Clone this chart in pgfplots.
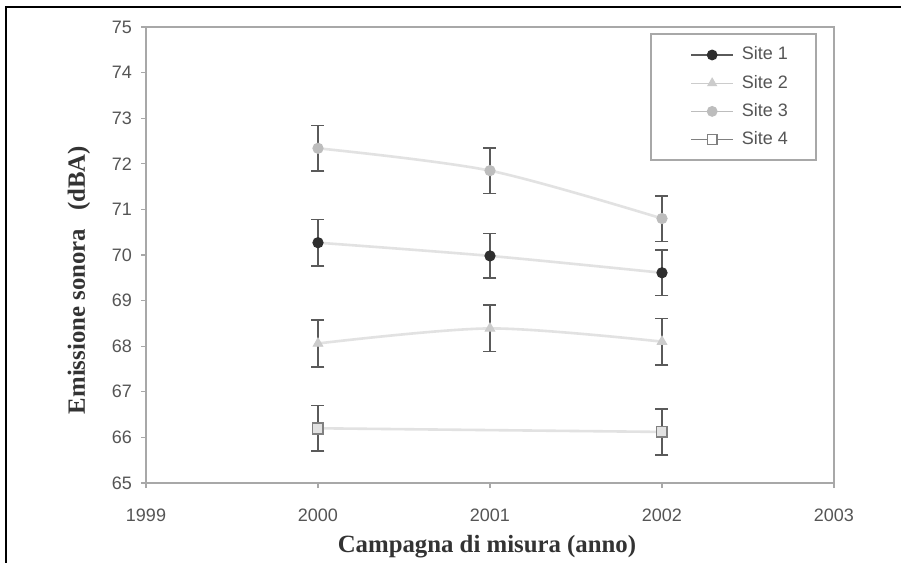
\documentclass[border=0pt]{standalone}
\usepackage{fontspec}
\setmainfont{Liberation Serif}
\setsansfont{Liberation Sans}
\usepackage{pgfplots}
\pgfplotsset{compat=1.18}
\definecolor{axisgray}{HTML}{A8A8A8}
\definecolor{errgray}{HTML}{5A5A5A}
\definecolor{linegray}{HTML}{E2E2E2}
\definecolor{ticktext}{HTML}{555555}
\definecolor{labeltext}{HTML}{333333}
\definecolor{sone}{HTML}{2E2E2E}
\definecolor{stwo}{HTML}{CCCCCC}
\definecolor{sthree}{HTML}{BDBDBD}
\definecolor{sfour}{HTML}{808080}
\begin{document}
\begin{tikzpicture}
\useasboundingbox (0,0) rectangle (450.5pt,281.5pt);
\fill[white] (0,0) rectangle (450.5pt,281.5pt);
\draw[black, line width=1pt] (3pt,0) -- (3pt,278pt) -- (450.5pt,278pt);
\begin{axis}[
  at={(73pt,40pt)}, anchor=south west, scale only axis,
  width=344pt, height=228pt,
  xmin=1999, xmax=2003, ymin=65, ymax=75,
  xtick={1999,2000,2001,2002,2003}, ytick={65,66,...,75},
  xtick pos=lower, ytick pos=left,
  tick align=outside, major tick length=2.5pt,
  tick style={axisgray, line width=0.6pt},
  axis line style={axisgray, line width=1pt},
  /pgf/number format/assume math mode=true,
  /pgf/number format/1000 sep={},
  tick label style={font=\sffamily\fontsize{9}{10}\selectfont, text=ticktext},
  x tick label style={yshift=-7pt},
  y tick label style={xshift=-1pt},
  xlabel={Campagna di misura (anno)},
  ylabel={Emissione sonora\hspace{9pt}(dBA)},
  xlabel style={at={(axis description cs:0.4956,-0.14)}, anchor=center,
    font=\bfseries\fontsize{12.4}{14}\selectfont, text=labeltext},
  ylabel style={at={(axis description cs:-0.0974,0.445)}, anchor=center,
    font=\bfseries\fontsize{12.4}{14}\selectfont, text=labeltext},
  legend style={at={(axis description cs:0.975,0.986)}, anchor=north east,
    draw=axisgray, line width=1pt, fill=white,
    font=\sffamily\fontsize{9}{10}\selectfont, text=ticktext,
    inner xsep=14pt, inner ysep=6pt, row sep=5.5pt,
    nodes={inner sep=0pt, text height=6.8pt, text depth=1.8pt},
    column sep=4pt},
  legend cell align=left,
  legend image code/.code={\path (0pt,0pt); \draw[#1] (6pt,0pt) -- (27pt,0pt); \path[#1] plot[only marks] coordinates {(16.5pt,0pt)};},
  error bars/y dir=both, error bars/y explicit,
  error bars/error mark options={rotate=90, mark size=3.25pt, line width=0.8pt, errgray},
  error bars/error bar style={line width=0.8pt, errgray},
]
% Site 3
\addplot[linegray, line width=1.3pt, smooth, mark=*, mark size=2.6pt,
  mark options={fill=sthree, draw=sthree, line width=0.4pt}, forget plot]
  table[x=x, y=y, y error=e] {
x y e
2000 72.34 0.5
2001 71.85 0.5
2002 70.80 0.5
};
% Site 1
\addplot[linegray, line width=1.3pt, smooth, mark=*, mark size=2.6pt,
  mark options={fill=sone, draw=sone, line width=0.4pt}, forget plot]
  table[x=x, y=y, y error=e] {
x y e
2000 70.27 0.51
2001 69.98 0.49
2002 69.61 0.5
};
% Site 2
\addplot[linegray, line width=1.3pt, smooth, mark=triangle*, mark size=2.8pt,
  mark options={fill=stwo, draw=stwo, line width=0.4pt}, forget plot]
  table[x=x, y=y, y error=e] {
x y e
2000 68.06 0.51
2001 68.39 0.51
2002 68.10 0.51
};
% Site 4
\addplot[linegray, line width=1.3pt, mark=square*, mark size=2.7pt,
  mark options={fill=linegray, draw=sfour, line width=0.9pt}, forget plot]
  table[x=x, y=y, y error=e] {
x y e
2000 66.20 0.5
2002 66.12 0.5
};
\addlegendimage{color=errgray, line width=0.6pt, mark=*, mark size=2.4pt, mark options={fill=sone, draw=sone}}
\addlegendentry{Site 1}
\addlegendimage{color=stwo, line width=0.6pt, mark=triangle*, mark size=2.4pt, mark options={fill=stwo, draw=stwo}}
\addlegendentry{Site 2}
\addlegendimage{color=sthree, line width=0.6pt, mark=*, mark size=2.4pt, mark options={fill=sthree, draw=sthree}}
\addlegendentry{Site 3}
\addlegendimage{color=sfour, line width=0.6pt, mark=square*, mark size=2.4pt, mark options={fill=white, draw=sfour, line width=0.7pt}}
\addlegendentry{Site 4}
\end{axis}
\end{tikzpicture}
\end{document}
